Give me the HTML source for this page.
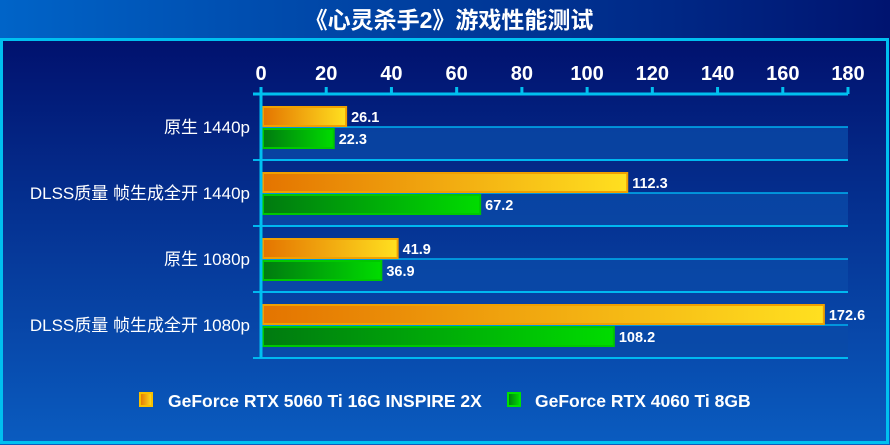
<!DOCTYPE html>
<html><head><meta charset="utf-8"><style>
html,body{margin:0;padding:0;width:890px;height:445px;overflow:hidden;background:#000}
svg{display:block}
text{font-family:"Liberation Sans","Noto Sans CJK SC",sans-serif;fill:#fff}
</style></head><body>
<svg id="chart" width="890" height="445">
<defs>
<linearGradient id="bg" x1="0" y1="0" x2="0" y2="1"><stop offset="0" stop-color="#000a66"/><stop offset="1" stop-color="#0a5cc0"/></linearGradient>
<linearGradient id="tb" x1="0" y1="0" x2="1" y2="0"><stop offset="0" stop-color="#0064c8"/><stop offset="1" stop-color="#001470"/></linearGradient>
<linearGradient id="og" x1="0" y1="0" x2="1" y2="0"><stop offset="0" stop-color="#e47400"/><stop offset="1" stop-color="#ffe020"/></linearGradient>
<linearGradient id="gg" x1="0" y1="0" x2="1" y2="0"><stop offset="0" stop-color="#007a10"/><stop offset="1" stop-color="#00dc00"/></linearGradient>
</defs>
<rect x="0" y="0" width="890" height="445" fill="url(#bg)"/>
<rect x="0" y="0" width="890" height="38" fill="url(#tb)"/>
<text x="449" y="28" text-anchor="middle" font-size="23" font-weight="bold">《心灵杀手2》游戏性能测试</text>
<rect x="1.5" y="39.5" width="886" height="403" fill="none" stroke="#00c0f0" stroke-width="3"/>
<g id="plot"></g>
<g>
<rect x="140" y="393" width="12" height="13" fill="url(#og)" stroke="#f8c000" stroke-width="2"/>
<text x="168" y="407" font-size="17.5" font-weight="bold">GeForce RTX 5060 Ti 16G INSPIRE 2X</text>
<rect x="508" y="393" width="12" height="13" fill="url(#gg)" stroke="#00e000" stroke-width="2"/>
<text x="535" y="407" font-size="17.5" font-weight="bold">GeForce RTX 4060 Ti 8GB</text>
</g>
</svg>
<script>
const categories = ["原生 1440p", "DLSS质量 帧生成全开 1440p", "原生 1080p", "DLSS质量 帧生成全开 1080p"];
const series5060 = [26.1, 112.3, 41.9, 172.6];
const series4060 = [22.3, 67.2, 36.9, 108.2];
const ticks = [0, 20, 40, 60, 80, 100, 120, 140, 160, 180];

const NS = "http://www.w3.org/2000/svg";
const g = document.getElementById("plot");
const X0 = 261, X1 = 848, XMAX = 180, Y0 = 94, GH = 66;
const xs = v => X0 + (v / XMAX) * (X1 - X0);
function mk(tag, attrs) { const e = document.createElementNS(NS, tag); for (const k in attrs) e.setAttribute(k, attrs[k]); g.appendChild(e); return e; }

categories.forEach((c, i) => {
  const top = Y0 + i * GH;
  const band = mk("rect", {x: X0, y: top + GH / 2, width: X1 - X0, height: GH / 2, fill: "#0a4aa8", opacity: 0.8});
  
  
  const mid = mk("line", {x1: X0, x2: X1, y1: top + GH / 2, y2: top + GH / 2, stroke: "#00b0f0", "stroke-width": 1.5});
  
  
  const sep = mk("line", {x1: X0 - 8, x2: X1, y1: top + GH, y2: top + GH, stroke: "#00b8f0", "stroke-width": 2});
  
  
  const lbl = mk("text", {x: 250, y: top + GH / 2 + 6, "text-anchor": "end", "font-size": 17});
  lbl.textContent = c;
  
  

  const w1 = xs(series5060[i]) - X0;
  const b1 = mk("rect", {x: X0 + 2, y: top + 13, width: w1 - 2, height: 19, fill: "url(#og)", stroke: "#f0a000", "stroke-width": 2});
  
  
  const v1 = mk("text", {x: X0 + w1 + 5, y: top + 28, "font-size": 14.5, "font-weight": "bold"});
  v1.textContent = series5060[i];
  
  

  const w2 = xs(series4060[i]) - X0;
  const b2 = mk("rect", {x: X0 + 2, y: top + 35, width: w2 - 2, height: 19, fill: "url(#gg)", stroke: "#00c800", "stroke-width": 2});
  
  
  const v2 = mk("text", {x: X0 + w2 + 5, y: top + 50, "font-size": 14.5, "font-weight": "bold"});
  v2.textContent = series4060[i];
  
  
});

const ax = mk("line", {x1: X0 - 8, x2: X1, y1: Y0, y2: Y0, stroke: "#00c0f0", "stroke-width": 3});


const ay = mk("line", {x1: X0, x2: X0, y1: Y0 - 7, y2: Y0 + 4 * GH, stroke: "#00c0f0", "stroke-width": 3});


ticks.forEach(t => {
  const tk = mk("line", {x1: xs(t), x2: xs(t), y1: Y0 - 7, y2: Y0, stroke: "#00c0f0", "stroke-width": 3});
  
  
  const tl = mk("text", {x: xs(t), y: 80, "text-anchor": "middle", "font-size": 20, "font-weight": "bold"});
  tl.textContent = t;
  
  
});
</script>
</body></html>
